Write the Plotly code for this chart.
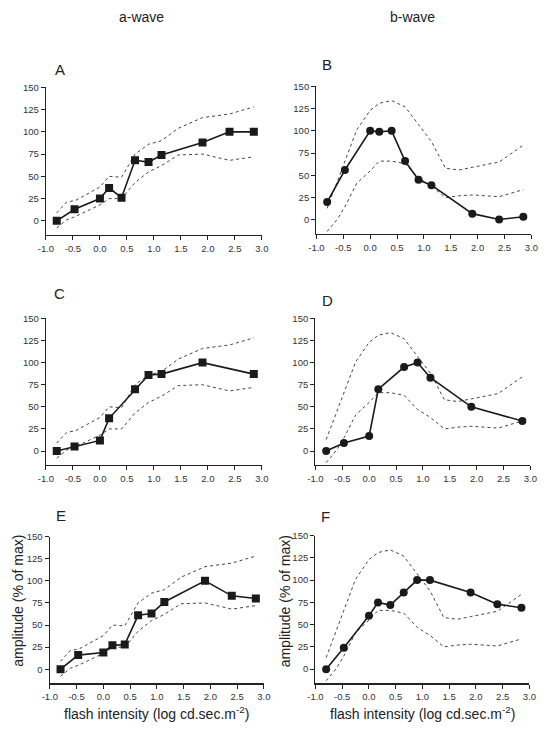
import plotly.graph_objects as go

# ---------------- data ----------------
x_full = [-0.8, -0.47, 0.0, 0.17, 0.4, 0.65, 0.9, 1.14, 1.9, 2.4, 2.85]
x_short = [-0.8, -0.47, 0.0, 0.17, 0.65, 0.9, 1.14, 1.9, 2.85]

a_A = [0, 13, 25, 37, 26, 68, 66, 74, 88, 100, 100]
b_B = [20, 56, 100, 99, 100, 66, 45, 39, 7, 0.5, 3.5]
a_C = [0, 5, 12, 37, 70, 86, 87, 100, 87]
b_D = [0, 9, 17, 70, 95, 100, 83, 50, 34]
a_E = [0, 16, 19, 27, 28, 61, 63, 76, 100, 83, 80]
b_F = [0, 24, 60, 75, 72, 86, 100, 100, 86, 73, 69]

# normal range envelopes (dotted)
env_a_x = [-0.8, -0.62, -0.45, 0.0, 0.17, 0.4, 0.65, 0.9, 1.14, 1.45, 1.9, 2.4, 2.85]
upper_a = [9, 21, 23, 38, 50, 49, 75, 86, 90, 104, 116, 120, 128]
lower_a = [-8, 1, 5, 18, 25, 25, 43, 55, 62, 74, 75, 68, 72]

upper_b_x = [-0.8, -0.25, 0.0, 0.17, 0.4, 0.65, 0.9, 1.14, 1.4, 1.65, 1.9, 2.4, 2.85]
upper_b = [13, 101, 123, 131, 134, 127, 107, 88, 58, 56, 59, 65, 84]
lower_b_x = [-0.8, -0.6, -0.45, -0.25, 0.0, 0.17, 0.4, 0.65, 0.9, 1.14, 1.4, 1.65, 1.9, 2.4, 2.85]
lower_b = [-13, 1.5, 17, 41, 55, 66, 66, 63, 47, 38, 25, 27, 28, 26, 34]

x_ticks = [-1.0, -0.5, 0.0, 0.5, 1.0, 1.5, 2.0, 2.5, 3.0]
y_ticks = [0, 25, 50, 75, 100, 125, 150]

panel_letters = ["A", "B", "C", "D", "E", "F"]
col_titles = ["a-wave", "b-wave"]
y_title = "amplitude (% of max)"
x_title = "flash intensity (log cd.sec.m<sup>-2</sup>)"

# ---------------- layout ----------------
W, H = 553, 730
FONT = "Liberation Sans, Arial, sans-serif"

def px_x(p):
    return p / W

def px_y(p):
    return 1 - p / H

# panel pixel boxes: (left, right, top(150), bottom axis line)
boxes = [
    (39, 261, 82, 231),
    (317, 538, 81, 230),
    (39, 261, 315, 463),
    (316, 537, 315, 463),
    (43, 263, 535, 683),
    (316, 536, 534, 683),
]

panels = [
    (x_full, a_A, "square", env_a_x, upper_a, env_a_x, lower_a),
    (x_full, b_B, "circle", upper_b_x, upper_b, lower_b_x, lower_b),
    (x_short, a_C, "square", env_a_x, upper_a, env_a_x, lower_a),
    (x_short, b_D, "circle", upper_b_x, upper_b, lower_b_x, lower_b),
    (x_full, a_E, "square", env_a_x, upper_a, env_a_x, lower_a),
    (x_full, b_F, "circle", upper_b_x, upper_b, lower_b_x, lower_b),
]

fig = go.Figure()
layout = dict(
    width=W, height=H,
    margin=dict(l=0, r=0, t=0, b=0),
    paper_bgcolor="white", plot_bgcolor="white",
    showlegend=False,
    font=dict(family=FONT, color="#222"),
)

annotations = []
for i, (box, pan) in enumerate(zip(boxes, panels)):
    n = "" if i == 0 else str(i + 1)
    xa, ya = "x" + n, "y" + n
    l, r, t, b = box
    layout["xaxis" + n] = dict(
        domain=[px_x(l), px_x(r)], range=[-1.0, 3.0], anchor=ya,
        tickvals=x_ticks, ticktext=[f"{v:.1f}" for v in x_ticks],
        showline=True, linecolor="#222", linewidth=1.3,
        ticks="outside", ticklen=4, tickcolor="#222", tickwidth=1,
        showgrid=False, zeroline=False,
        tickfont=dict(size=9.5, color="#333", family=FONT),
    )
    layout["yaxis" + n] = dict(
        domain=[px_y(b), px_y(t)], range=[-16, 150], anchor=xa,
        tickvals=y_ticks,
        showline=True, linecolor="#222", linewidth=1.3,
        ticks="outside", ticklen=4, tickcolor="#222", tickwidth=1,
        showgrid=False, zeroline=False,
        tickfont=dict(size=9.5, color="#333", family=FONT),
    )
    xs, ys, sym, ux, uy, lx, ly = pan
    fig.add_trace(go.Scatter(x=ux, y=uy, mode="lines", xaxis=xa, yaxis=ya,
                             line=dict(color="#444", width=1, dash="dot")))
    fig.add_trace(go.Scatter(x=lx, y=ly, mode="lines", xaxis=xa, yaxis=ya,
                             line=dict(color="#444", width=1, dash="dot")))
    fig.add_trace(go.Scatter(x=xs, y=ys, mode="lines+markers", xaxis=xa, yaxis=ya,
                             line=dict(color="#1a1a1a", width=1.6),
                             marker=dict(symbol=sym, size=8, color="#1a1a1a")))

letter_pos = [(53, 64), (328, 59), (53, 290), (328, 297), (54, 514), (326, 515)]
for letter, (lx, ly) in zip(panel_letters, letter_pos):
    annotations.append(dict(text=letter, x=px_x(lx), y=px_y(ly), xref="paper", yref="paper",
                            showarrow=False, xanchor="center", yanchor="middle",
                            font=dict(size=15, color="#222", family=FONT)))

for title, cx in zip(col_titles, [137, 416]):
    annotations.append(dict(text=title, x=px_x(cx), y=px_y(11), xref="paper", yref="paper",
                            showarrow=False, xanchor="center", yanchor="middle",
                            font=dict(size=14, color="#222", family=FONT)))

for cx in [10, 285]:
    annotations.append(dict(text=y_title, x=px_x(cx), y=px_y(600), xref="paper", yref="paper",
                            showarrow=False, xanchor="center", yanchor="middle", textangle=-90,
                            font=dict(size=14, color="#222", family=FONT)))

for cx in [153, 426]:
    annotations.append(dict(text=x_title, x=px_x(cx), y=px_y(713), xref="paper", yref="paper",
                            showarrow=False, xanchor="center", yanchor="middle",
                            font=dict(size=14, color="#222", family=FONT)))

layout["annotations"] = annotations
fig.update_layout(**layout)
fig.write_html("out.html",
               config={"displayModeBar": False, "staticPlot": True},
               post_script="document.body.style.margin='0';document.body.style.padding='0';")
